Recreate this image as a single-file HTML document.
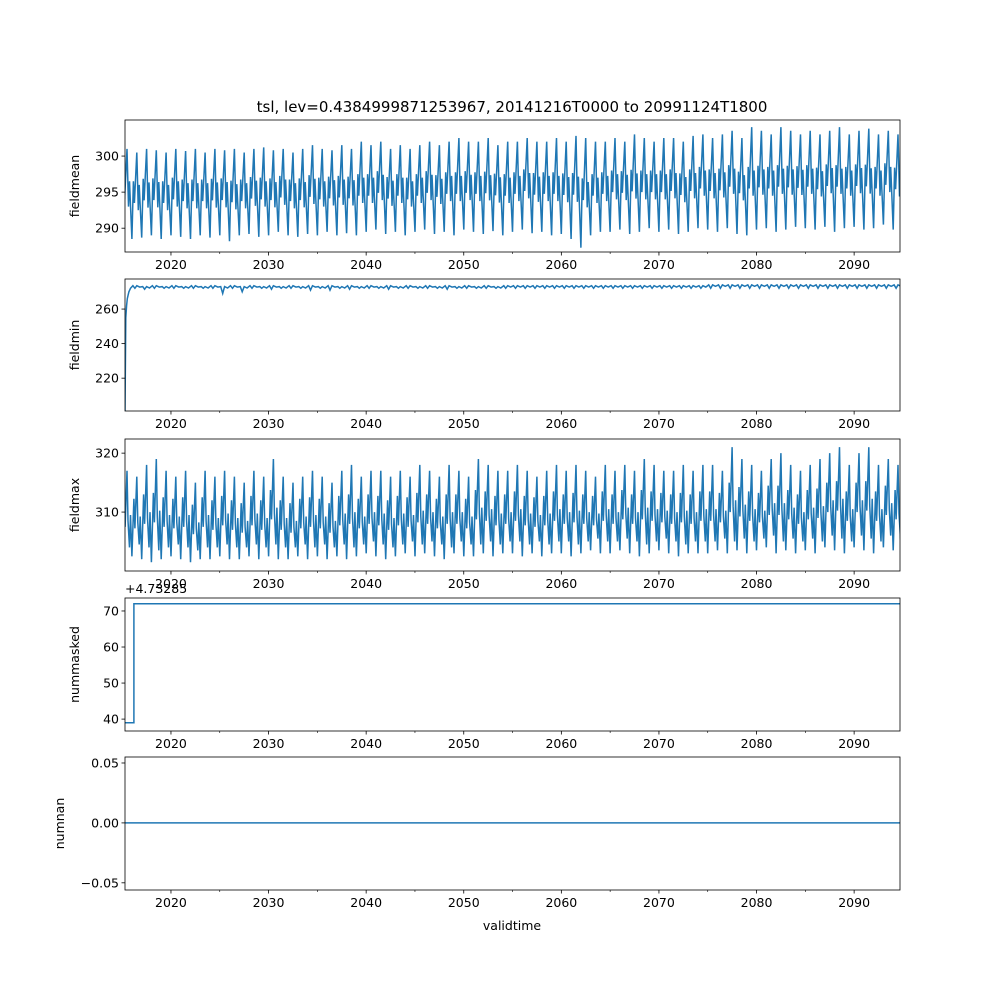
<!DOCTYPE html>
<html><head><meta charset="utf-8">
<style>
body{margin:0;background:#fff;}
svg{display:block;font-family:"DejaVu Sans","Liberation Sans",sans-serif;}
</style></head>
<body>
<svg id="c" width="1000" height="1000" viewBox="0 0 1000 1000"></svg>
<script>
const years = [];
for (let i = 0; i < 80; i++) years.push(2015 + i);
const xTicks = [2020,2030,2040,2050,2060,2070,2080,2090];
const meanMax = [301,300.5,301,300.8,300.5,301,300.7,301,300.5,301, 300.8,301,300.5,301,301.2,300.8,301,300.5,301,301.5, 301,300.8,301.5,301,302,301.5,302,301,301.5,301, 301.5,302,301.5,302,302.5,302,302,302.5,301.5,302, 302,302.5,302,302,302.5,302,302.8,302.5,302,302, 302.5,302,303,302.5,302,302.5,302.5,302,302.8,303, 302.5,303,303.5,302.5,304,303.5,303,304,303.5,303, 303.5,303,303.5,304,303,303.5,303.8,303,303.5,303];
const meanMin = [289,288.5,288.7,289,288.5,289,288.8,288.5,289,288.7, 289,288.2,289,289.2,288.8,289,289.5,289,288.8,289.2, 289,289.5,289,289.3,289,289.5,289.8,289.2,289.5,289, 289.5,289.8,289.2,289.5,289,289.8,289.5,289.2,289.6,289, 289.5,289.8,289.3,289.5,289,289.2,288.5,287.3,289,289.5, 289.5,289.8,289.2,289.5,290,289.5,289.8,289.2,289.5,290, 289.8,289.5,290,289.2,289,289.8,290,289.5,289.8,290.2, 290,289.8,290.2,289.5,290,290.2,289.8,290,290.5,289.8];
const minStart = [201,255,262,266,268,270,271,272];
const minDip = [267,272,271.5,272,272,272,272,272,272,272, 269,272,270,272,272,271.5,272,272,272,271, 272,271,272,271.5,272,272,272,271.5,272,272, 272,272,272,271.5,272,272,272,272,272,272, 272,272,272,272,272,272,272,272,272,272, 272,272,272,272,272,272,272,272,272,272, 272,272,272,272,272,272,272,272,272,272, 272,272,272,272,272,272,272,272,272,272];
const minTop = [273,273.5,273,273.5,273,273.5,273,273.5,273,273.5, 273,273.5,273,273.5,273,273.5,273,273.5,273,273.5, 273,273.5,273,273.5,273,273.5,273,273.5,273,273.5, 273,273.5,273,273.5,273,273.5,273,273.5,273,273.5, 273.5,273.5,273.5,273.5,273.5,273.5,273.5,273.5,273.5,273.5, 273.5,273.5,273.5,273.5,273.5,273.5,273.5,273.5,273.5,273.5, 274,274,274,274,274,274,274,274,274,274, 274,274,274,274,274,274,274,274,274,274];
const maxMax = [317,316,318,319,317,316,317,315,317,316, 317,316,315,317,316,319,316,315,316,317, 316,315,317,318,316,317,317,316,317,316, 318,317,316,318,317,316,319,318,317,317, 318,317,316,317,318,317,318,317,316,318, 317,318,317,319,318,317,317,318,317,318, 318,317,321,319,318,317,319,320,318,317, 318,319,320,321,318,320,321,318,319,318];
const maxMin = [302,302.5,302,301.5,302,302.5,302,301.5,302,302, 302.5,302,302,302.5,302,302.5,302,302,302.5,302, 302.5,302,302.5,302,302.5,303,302.5,302,302.5,303, 302.5,303,302.5,302,303,302.5,302.5,303,302.5,303, 303,302.5,303,302.5,303,303,302.5,303,303.5,303, 303,303.5,303,302.5,303,303.5,303,302.5,303,303, 303,303.5,303,303.5,303,303.5,304,303,303.5,303, 303.5,303,304,303.5,303,304,303.5,303,304,303.5];
const maskedVals = [39,72];
const maskedStep = 2016.2;
const nanVal = 0;

const svg = document.getElementById('c');
const NS = 'http://www.w3.org/2000/svg';
const X0 = 125, X1 = 900, D0 = 2015.29, D1 = 2094.7;
const xs = d => X0 + (d - D0) / (D1 - D0) * (X1 - X0);
function mk(tag, attrs, parent) { const e = document.createElementNS(NS, tag); for (const k in attrs) e.setAttribute(k, attrs[k]); (parent || svg).appendChild(e); return e; }

const panels = [
  {name:'fieldmean', top:120, bot:252, lo:286.7, hi:305, ticks:[290,295,300], lab:['290','295','300']},
  {name:'fieldmin', top:279, bot:411, lo:201, hi:277.4, ticks:[220,240,260], lab:['220','240','260']},
  {name:'fieldmax', top:439, bot:571, lo:300, hi:322.4, ticks:[310,320], lab:['310','320']},
  {name:'nummasked', top:598, bot:731, lo:36.7, hi:73.6, ticks:[40,50,60,70], lab:['40','50','60','70']},
  {name:'numnan', top:757, bot:890, lo:-0.056, hi:0.055, ticks:[-0.05,0,0.05], lab:['\u22120.05','0.00','0.05']}
];

function series(p) {
  const pts = [];
  if (p.name === 'fieldmean') {
    years.forEach((y, i) => {
      const a = meanMin[i], b = meanMax[i], m = (a + b) / 2;
      pts.push([y, a], [y + .15, m + 2], [y + .25, m - 1], [y + .5, b], [y + .65, m - 2], [y + .75, m + 1.5]);
    });
  } else if (p.name === 'fieldmin') {
    minStart.forEach((v, i) => pts.push([D0 + i * 0.08, v]));
    years.forEach((y, i) => { if (y + .1 > D0 + 0.6) pts.push([y + .1, minTop[i]], [y + .3, minDip[i]], [y + .5, minTop[i]], [y + .8, minTop[i] - 0.8]); });
  } else if (p.name === 'fieldmax') {
    years.forEach((y, i) => {
      const a = maxMin[i], b = maxMax[i], m = (a + b) / 2;
      pts.push([y, a], [y + .2, m + 3], [y + .3, m - 2], [y + .5, b], [y + .6, m - 1], [y + .75, a + 2], [y + .85, m]);
    });
  } else if (p.name === 'nummasked') {
    pts.push([D0, maskedVals[0]], [maskedStep, maskedVals[0]], [maskedStep, maskedVals[1]], [D1, maskedVals[1]]);
  } else {
    pts.push([D0, nanVal], [D1, nanVal]);
  }
  return pts;
}

panels.forEach(p => {
  const g = mk('g', {});
  
  
  const ys = v => p.bot - (v - p.lo) / (p.hi - p.lo) * (p.bot - p.top);
  const clipId = 'cl-' + p.name;
  const cp = mk('clipPath', {id: clipId}, g);
  mk('rect', {x: X0, y: p.top, width: X1 - X0, height: p.bot - p.top}, cp);
  const pts = series(p).filter(q => q[0] >= D0 - 1 && q[0] <= D1 + 1);
  const line = mk('polyline', {points: pts.map(q => xs(q[0]).toFixed(1) + ',' + ys(q[1]).toFixed(1)).join(' '), fill: 'none', stroke: '#1f77b4', 'stroke-width': 1.5, 'clip-path': 'url(#' + clipId + ')'}, g);
  
  
  const fr = mk('rect', {x: X0, y: p.top, width: X1 - X0, height: p.bot - p.top, fill: 'none', stroke: '#000', 'stroke-width': 0.8}, g);
  
  
  xTicks.forEach(t => {
    mk('line', {x1: xs(t), x2: xs(t), y1: p.bot, y2: p.bot + 3.5, stroke: '#000', 'stroke-width': 0.8}, g);
    const tm = xs(t + 5);
    if (tm < X1) mk('line', {x1: tm, x2: tm, y1: p.bot, y2: p.bot + 2, stroke: '#000', 'stroke-width': 0.6}, g);
    const tx = mk('text', {x: xs(t), y: p.bot + 17, 'font-size': 12.5, 'text-anchor': 'middle'}, g);
    tx.textContent = t;
    
    
  });
  p.ticks.forEach((t, i) => {
    const y = ys(t);
    mk('line', {x1: X0 - 3.5, x2: X0, y1: y, y2: y, stroke: '#000', 'stroke-width': 0.8}, g);
    const tx = mk('text', {x: X0 - 6, y: y + 4.5, 'font-size': 12.5, 'text-anchor': 'end'}, g);
    tx.textContent = p.lab[i];
    
    
  });
  const yl = mk('text', {x: 0, y: 0, 'font-size': 12.5, 'text-anchor': 'middle', transform: 'translate(' + (p.name === 'numnan' ? 64 : 79) + ',' + ((p.top + p.bot) / 2) + ') rotate(-90)'}, g);
  yl.textContent = p.name;
  
  
});

const off = mk('text', {x: 125, y: 593, 'font-size': 12.5});
off.textContent = '+4.73285';


const title = mk('text', {x: 512, y: 112, 'font-size': 15, 'text-anchor': 'middle'});
title.textContent = 'tsl, lev=0.4384999871253967, 20141216T0000 to 20991124T1800';


const xl = mk('text', {x: 512, y: 930, 'font-size': 12.5, 'text-anchor': 'middle'});
xl.textContent = 'validtime';


</script>
</body></html>
